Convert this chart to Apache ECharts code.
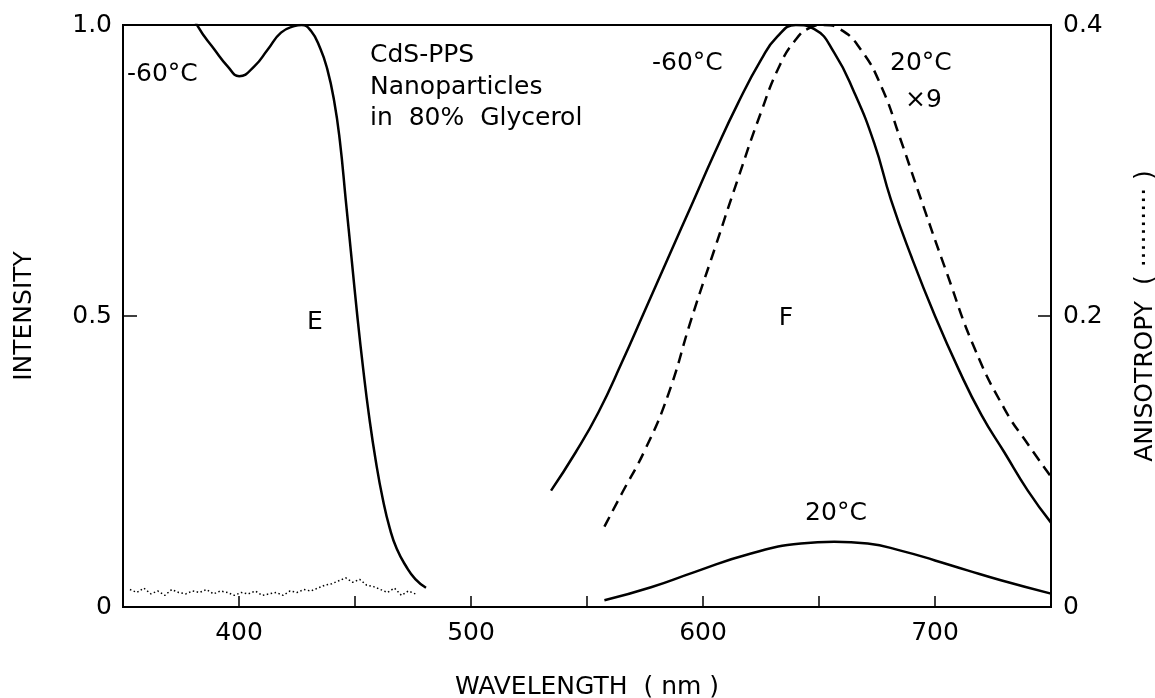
<!DOCTYPE html>
<html>
<head>
<meta charset="utf-8">
<script src="https://cdn.jsdelivr.net/npm/echarts@6/dist/echarts.min.js"></script>
<style>
  html, body { margin: 0; padding: 0; background: #fff; }
  #chart { width: 1155px; height: 698px; }
</style>
</head>
<body>
<div id="chart"></div>
<script>
// E: excitation spectrum at -60°C
const excWl  = [379, 382.2, 389.4, 395.1, 400.1, 406.6, 412.4, 418.1, 423.8, 427, 431, 435, 438, 441, 443.5, 446, 448.5, 451, 453.5, 456, 459, 462, 465, 468, 472, 476, 480.6]
const excInt = [1.03, 0.998, 0.958, 0.929, 0.912, 0.929, 0.958, 0.987, 0.998, 1.0, 0.99, 0.96, 0.925, 0.87, 0.80, 0.70, 0.60, 0.50, 0.41, 0.33, 0.25, 0.185, 0.135, 0.10, 0.07, 0.048, 0.033]

// F: emission at -60°C (solid)
const emColdWl  = [534.5, 545, 555, 565, 575, 585, 595, 605, 615, 625, 632, 640, 648, 656.6, 665.2, 673.8, 681, 690, 700, 710, 720, 730, 740, 750]
const emColdInt = [0.20, 0.265, 0.335, 0.42, 0.51, 0.60, 0.69, 0.78, 0.865, 0.94, 0.98, 1.0, 0.993, 0.952, 0.884, 0.797, 0.70, 0.60, 0.50, 0.41, 0.33, 0.265, 0.20, 0.145]

// F: emission at 20°C scaled x9 (dashed)
const emWarm9Wl  = [557.5, 565, 575, 585, 595, 605, 615, 625, 633, 640, 646, 652, 659, 668, 677, 685, 694, 705, 717, 730, 740, 750]
const emWarm9Int = [0.138, 0.195, 0.27, 0.365, 0.495, 0.615, 0.735, 0.85, 0.93, 0.975, 0.995, 1.0, 0.993, 0.958, 0.893, 0.805, 0.70, 0.575, 0.445, 0.34, 0.28, 0.224]

// F: emission at 20°C (solid, low)
const emWarmWl  = [557.5, 577.6, 596.3, 620.7, 642.2, 656.6, 671, 686, 700, 714, 728.4, 750]
const emWarmInt = [0.0115, 0.034, 0.060, 0.092, 0.109, 0.112, 0.109, 0.096, 0.080, 0.063, 0.046, 0.023]

// anisotropy (right axis), dotted
const anisoWl = [353, 356, 359, 362, 365, 368, 371, 374, 377, 380, 383, 386, 389, 392, 395, 398, 401, 404, 407, 410, 413, 416, 419, 422, 425, 428, 431, 434, 437, 440, 443, 446, 449, 452, 455, 458, 461, 464, 467, 470, 473, 476]
const anisoVal = [0.012, 0.010, 0.013, 0.009, 0.011, 0.008, 0.012, 0.010, 0.009, 0.011, 0.010, 0.012, 0.009, 0.011, 0.010, 0.008, 0.010, 0.009, 0.011, 0.008, 0.009, 0.010, 0.008, 0.011, 0.010, 0.012, 0.011, 0.013, 0.015, 0.016, 0.018, 0.020, 0.017, 0.019, 0.015, 0.014, 0.012, 0.010, 0.013, 0.008, 0.011, 0.009]

const xTickLabels = [400, 500, 600, 700]

const zip = (xs, ys) => xs.map((x, i) => [x, ys[i]])

const FONT = 'DejaVu Sans'
const FS = 25
const txt = (text, x, y, align) => ({
  type: 'text', x: x, y: y,
  style: { text: text, fill: '#000', font: FS + 'px "' + FONT + '"', align: align || 'left', verticalAlign: 'middle' }
})

const chart = echarts.init(document.getElementById('chart'))
const line = { color: '#000', width: 2.5 }

chart.setOption({
  animation: false,
  backgroundColor: '#fff',
  textStyle: { fontFamily: FONT, color: '#000' },
  grid: {
    left: 123, right: 104, top: 25, bottom: 91, outerBoundsMode: 'none', containLabel: false,
    show: true, borderColor: '#000', borderWidth: 2
  },
  xAxis: {
    type: 'value', min: 350, max: 750, interval: 50,
    name: 'WAVELENGTH  ( nm )', nameLocation: 'middle', nameGap: 68,
    nameTextStyle: { fontSize: FS, color: '#000' },
    axisLine: { lineStyle: { color: '#000', width: 2 } },
    axisTick: { inside: true, length: 11, lineStyle: { color: '#000', width: 1.5 } },
    axisLabel: {
      margin: 14, fontSize: FS, color: '#000',
      formatter: v => xTickLabels.indexOf(v) >= 0 ? String(v) : ''
    },
    splitLine: { show: false }
  },
  yAxis: [{
    type: 'value', min: 0, max: 1, interval: 0.5,
    name: 'INTENSITY', nameLocation: 'middle', nameGap: 86, nameRotate: 90,
    nameTextStyle: { fontSize: FS, color: '#000' },
    axisLine: { show: true, lineStyle: { color: '#000', width: 2 } },
    axisTick: { show: true, inside: true, length: 14, lineStyle: { color: '#000', width: 1.5 } },
    axisLabel: { margin: 11, fontSize: FS, color: '#000', formatter: v => v === 0 ? '0' : v.toFixed(1) },
    splitLine: { show: false }
  }, {
    type: 'value', min: 0, max: 0.4, interval: 0.2, position: 'right',
    name: 'ANISOTROPY  ( ·········· )', nameLocation: 'middle', nameGap: 82, nameRotate: 90,
    nameTextStyle: { fontSize: FS, color: '#000' },
    axisLine: { show: true, lineStyle: { color: '#000', width: 2 } },
    axisTick: { show: true, inside: true, length: 13, lineStyle: { color: '#000', width: 1.5 } },
    axisLabel: { margin: 12, fontSize: FS, color: '#000', formatter: v => v === 0 ? '0' : v.toFixed(1) },
    splitLine: { show: false }
  }],
  series: [
    { name: 'E -60°C', type: 'line', data: zip(excWl, excInt), smooth: 0.5, showSymbol: false, clip: true, lineStyle: line },
    { name: 'F -60°C', type: 'line', data: zip(emColdWl, emColdInt), smooth: 0.5, showSymbol: false, lineStyle: line },
    { name: 'F 20°C x9', type: 'line', data: zip(emWarm9Wl, emWarm9Int), smooth: 0.5, showSymbol: false, lineStyle: { color: '#000', width: 2.5, type: [11, 7] } },
    { name: 'F 20°C', type: 'line', data: zip(emWarmWl, emWarmInt), smooth: 0.5, showSymbol: false, lineStyle: line },
    { name: 'Anisotropy', type: 'line', yAxisIndex: 1, data: zip(anisoWl, anisoVal), showSymbol: false, lineStyle: { color: '#000', width: 1.5, type: [1.5, 2.5] } }
  ],
  graphic: [
    txt('-60°C', 127, 74),
    txt('CdS-PPS', 370, 55),
    txt('Nanoparticles', 370, 87),
    txt('in  80%  Glycerol', 370, 118),
    txt('-60°C', 652, 63),
    txt('20°C', 890, 63),
    txt('×9', 905, 100),
    txt('E', 315, 322, 'center'),
    txt('F', 786, 318, 'center'),
    txt('20°C', 836, 513, 'center')
  ]
})
</script>
</body>
</html>
